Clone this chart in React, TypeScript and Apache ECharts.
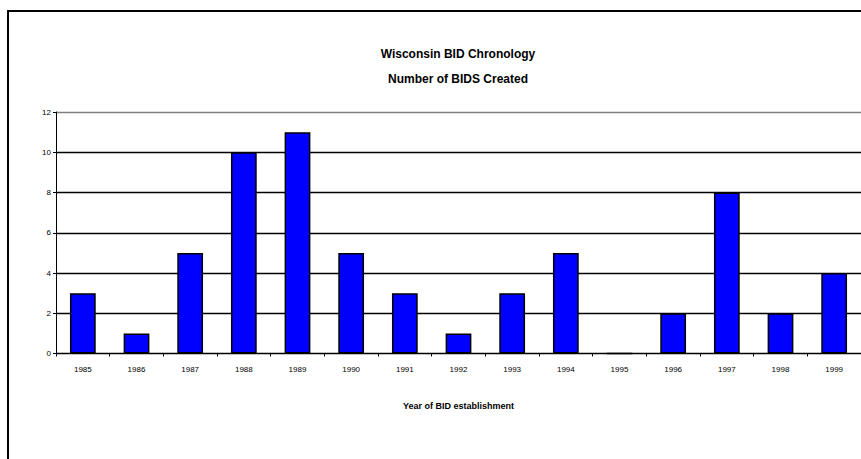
import React, { useEffect, useRef } from "react";
import * as echarts from "echarts";

const years = ["1985", "1986", "1987", "1988", "1989", "1990", "1991", "1992", "1993", "1994", "1995", "1996", "1997", "1998", "1999"];
const bidsCreated = [3, 1, 5, 10, 11, 5, 3, 1, 3, 5, 0, 2, 8, 2, 4];
const titleLines = ["Wisconsin BID Chronology", "Number of BIDS Created"];
const xAxisName = "Year of BID establishment";

export default function App() {
  const ref = useRef<HTMLDivElement>(null);
  useEffect(() => {
    if (!ref.current) return;
    const chart = echarts.init(ref.current, undefined, { renderer: "svg" });
    const font = "'Liberation Sans', Arial, sans-serif";
    chart.setOption({
      animation: false,
      backgroundColor: "#ffffff",
      graphic: [
        {
          type: "rect",
          shape: { x: 8, y: 11, width: 900, height: 500 },
          style: { fill: "none", stroke: "#000", lineWidth: 2 },
          silent: true,
        },
        {
          type: "text",
          x: 458,
          y: 54,
          style: { text: titleLines[0], font: `bold 12px ${font}`, fill: "#000", align: "center", verticalAlign: "middle" },
        },
        {
          type: "text",
          x: 458,
          y: 79,
          style: { text: titleLines[1], font: `bold 12px ${font}`, fill: "#000", align: "center", verticalAlign: "middle" },
        },
      ],
      grid: { left: 56, top: 112, right: -9, bottom: 105.5, containLabel: false },
      xAxis: {
        type: "category",
        data: years,
        name: xAxisName,
        nameLocation: "middle",
        nameGap: 48,
        nameTextStyle: { fontFamily: font, fontSize: 9, fontWeight: "bold", color: "#000" },
        axisLine: { show: true, lineStyle: { color: "#000", width: 1 } },
        axisTick: { show: true, length: 3, lineStyle: { color: "#000" } },
        axisLabel: { fontFamily: font, fontSize: 8, color: "#000", margin: 12, interval: 0 },
      },
      yAxis: {
        type: "value",
        min: 0,
        max: 12,
        interval: 2,
        axisLine: { show: true, lineStyle: { color: "#000", width: 1 } },
        axisTick: { show: true, length: 3, lineStyle: { color: "#000" } },
        axisLabel: { fontFamily: font, fontSize: 8, color: "#000", margin: 5 },
        splitLine: {
          show: true,
          lineStyle: { color: ["#000", "#000", "#000", "#000", "#000", "#000", "#808080"], width: 1.3 },
        },
      },
      series: [
        {
          type: "bar",
          data: bidsCreated,
          barWidth: "48%",
          itemStyle: { color: "#0000ff", borderColor: "#000", borderWidth: 1.5 },
        },
      ],
    });
    return () => chart.dispose();
  }, []);
  return <div ref={ref} style={{ position: "absolute", left: 0, top: 0, width: 861, height: 459 }} />;
}
